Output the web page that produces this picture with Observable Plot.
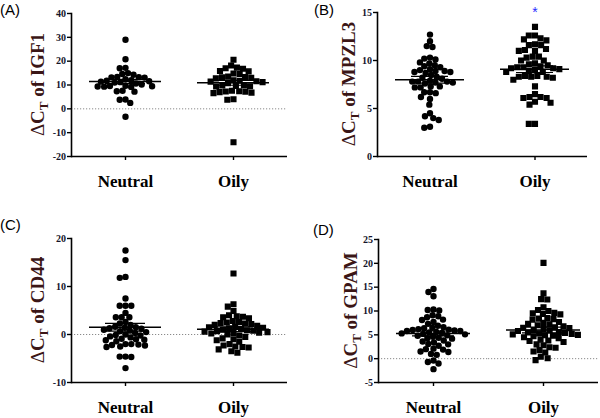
<!DOCTYPE html>
<html><head><meta charset="utf-8">
<script src="https://cdn.jsdelivr.net/npm/d3@7"></script>
<script src="https://cdn.jsdelivr.net/npm/@observablehq/plot@0.6"></script>
<style>
body{margin:0;background:#fff;}
#wrap{position:relative;width:600px;height:418px;overflow:hidden;background:#fff;}
.panel{position:absolute;}
.tag{position:absolute;font-family:"Liberation Sans",Arial,sans-serif;font-size:15px;line-height:1;color:#000;}
</style></head><body><div id="wrap"></div>
<script>
const groups = ["Neutral", "Oily"];
const panelTags = ["(A)", "(B)", "(C)", "(D)"];
const genes = ["IGF1", "MPZL3", "CD44", "GPAM"];

const igf1Neutral = [29.0, 20.8, 17.2, 17.0, 15.0, 14.6, 14.3, 13.4, 13.3, 13.2, 13.1, 12.4, 12.0, 11.8, 11.6, 11.4, 11.2, 11.0, 10.6, 10.2, 9.7, 9.6, 9.5, 9.4, 9.3, 9.2, 7.6, 7.4, 7.2, 3.9, 3.8, 2.5, -3.3];
const igf1Oily = [20.6, 18.2, 17.3, 17.0, 16.8, 15.9, 15.7, 14.8, 14.6, 13.5, 13.3, 13.2, 13.0, 12.8, 12.0, 11.8, 11.6, 11.4, 11.2, 10.8, 9.9, 9.8, 9.6, 9.5, 9.4, 7.6, 7.4, 7.3, 7.2, 7.0, 6.8, 6.6, 4.0, 3.8, -14.0];

const mpzl3Neutral = [12.7, 12.0, 11.5, 11.4, 10.3, 10.2, 10.1, 9.8, 9.7, 9.5, 9.4, 9.3, 9.1, 9.0, 8.9, 8.9, 8.8, 8.8, 8.7, 8.5, 8.3, 8.2, 8.1, 7.9, 7.8, 7.8, 7.8, 7.7, 7.7, 7.6, 7.3, 7.3, 7.2, 7.2, 6.7, 6.7, 6.6, 6.2, 6.0, 5.4, 4.5, 4.2, 4.0, 3.8, 3.1, 3.0];
const mpzl3Oily = [13.5, 12.6, 12.6, 12.3, 12.2, 12.1, 11.7, 11.6, 11.6, 11.2, 11.1, 11.0, 11.0, 10.4, 10.4, 10.3, 10.0, 10.0, 9.7, 9.6, 9.5, 9.4, 9.3, 9.3, 9.2, 9.2, 9.1, 9.0, 8.9, 8.8, 8.8, 8.4, 8.4, 8.3, 8.3, 8.3, 8.2, 8.0, 7.3, 6.5, 6.2, 6.2, 6.1, 6.1, 5.7, 5.6, 5.4, 3.4, 3.4];

const cd44Neutral = [17.5, 15.5, 12.0, 11.8, 7.5, 6.0, 6.0, 6.0, 4.5, 3.6, 3.6, 3.6, 2.6, 2.3, 2.0, 1.6, 1.5, 1.4, 1.3, 1.2, 1.0, 0.8, 0.7, 0.5, 0.3, 0.0, -0.1, -0.2, -0.4, -0.6, -0.9, -1.0, -1.1, -1.2, -1.4, -2.0, -2.0, -2.1, -2.2, -2.3, -2.5, -2.6, -4.6, -4.6, -4.7, -7.0];
const cd44Oily = [12.7, 6.3, 5.8, 4.9, 4.0, 3.8, 3.7, 3.6, 3.4, 2.8, 2.6, 2.5, 2.4, 2.3, 2.2, 2.0, 1.8, 1.6, 1.5, 1.4, 1.3, 1.2, 1.0, 0.9, 0.8, 0.7, 0.6, 0.5, 0.4, 0.3, 0.2, 0.0, -0.2, -0.5, -0.8, -1.0, -1.2, -1.5, -2.0, -2.3, -2.5, -2.6, -2.7, -3.1, -3.5, -3.8];

const gpamNeutral = [14.6, 14.0, 13.1, 10.3, 10.2, 10.1, 9.1, 8.9, 8.7, 8.2, 8.1, 7.7, 7.3, 6.9, 6.6, 6.5, 6.4, 6.2, 6.1, 6.0, 5.9, 5.8, 5.8, 5.6, 5.5, 5.4, 5.3, 5.2, 5.1, 4.9, 4.8, 4.6, 4.4, 4.3, 4.2, 3.8, 3.6, 3.4, 3.1, 3.0, 2.7, 2.1, 2.0, 1.9, 1.5, 1.4, 1.0, 0.8, -0.4, -0.7, -1.0, -2.2];
const gpamOily = [20.1, 13.7, 12.5, 12.4, 10.8, 10.2, 10.0, 9.6, 9.5, 9.4, 9.3, 8.5, 8.4, 8.3, 8.2, 7.7, 7.5, 7.3, 7.2, 7.0, 6.8, 6.6, 6.5, 6.4, 6.2, 6.0, 5.9, 5.8, 5.6, 5.5, 5.4, 5.3, 5.2, 5.1, 5.0, 4.9, 4.8, 4.7, 4.5, 4.3, 4.0, 3.8, 3.7, 3.5, 3.0, 2.8, 2.4, 2.3, 1.8, 1.5, 1.3, 0.4, 0.1, -0.3];

// mean and SEM per group [Neutral, Oily]
const igf1Mean = [11.5, 10.9], igf1Sem = [0.9, 1.0];
const mpzl3Mean = [8.0, 9.1], mpzl3Sem = [0.35, 0.35];
const cd44Mean = [1.5, 1.1], cd44Sem = [0.8, 0.5];
const gpamMean = [5.3, 6.0], gpamSem = [0.5, 0.6];

// y-axis tick values
const igf1Ticks = [-20, -10, 0, 10, 20, 30, 40];
const mpzl3Ticks = [0, 5, 10, 15];
const cd44Ticks = [-10, 0, 10, 20];
const gpamTicks = [-5, 0, 5, 10, 15, 20, 25];

// significance marks [Neutral, Oily]
const mpzl3Sig = ["", "*"];

const wrap = document.getElementById("wrap");

function panel(cfg) {
  const nRows = cfg.neutral.map(v => ({g: groups[0], v}));
  const oRows = cfg.oily.map(v => ({g: groups[1], v}));
  const stats = groups.map((g, i) => ({g, m: cfg.mean[i], lo: cfg.mean[i] - cfg.sem[i], hi: cfg.mean[i] + cfg.sem[i], s: (cfg.sig || ["", ""])[i]}));
  const ymin = cfg.ticks[0], ymax = cfg.ticks[cfg.ticks.length - 1];
  const svg = Plot.plot({
    width: 300, height: 209,
    marginLeft: cfg.ml, marginRight: cfg.mr, marginTop: cfg.mt, marginBottom: cfg.mb,
    style: {fontFamily: "'Liberation Serif', 'Times New Roman', serif", background: "transparent", overflow: "visible", color: "#000"},
    y: {domain: [ymin, ymax], label: null},
    fx: {domain: groups, padding: 0, label: null},
    marks: [
      Plot.ruleY([0], {stroke: "#8a8a8a", strokeWidth: 1, strokeDasharray: "1.2,1.8"}),
      Plot.dot(nRows, Plot.dodgeX("middle", {fx: "g", y: "v", r: 2.4, padding: 1.1, fill: "#000", stroke: "#000", strokeWidth: 1.6})),
      Plot.dot(oRows, Plot.dodgeX("middle", {fx: "g", y: "v", r: 2.6, padding: 0.9, symbol: "square", fill: "#000", stroke: "#000", strokeWidth: 1.5})),
      Plot.tickY(stats, {fx: "g", y: "m", insetLeft: 18, insetRight: 18, stroke: "#000", strokeWidth: 1.5}),
      Plot.tickY(stats, {fx: "g", y: "hi", insetLeft: 34, insetRight: 34, stroke: "#000", strokeWidth: 1.2}),
      Plot.tickY(stats, {fx: "g", y: "lo", insetLeft: 34, insetRight: 34, stroke: "#000", strokeWidth: 1.2}),
      Plot.text(stats, {fx: "g", text: "s", frameAnchor: "top", dy: -5, fontSize: 14, fill: "#2b2bff", fontFamily: "'Liberation Sans', Arial, sans-serif"}),
      Plot.ruleY([ymin], {stroke: "#000", strokeWidth: 1.6}),
      Plot.frame({anchor: "left", facet: "super", stroke: "#000", strokeWidth: 1.6}),
      Plot.axisY({ticks: cfg.ticks, tickFormat: d => String(d), tickSize: 4, tickPadding: 1.5, fontSize: 10, fontWeight: "bold", strokeWidth: 1.4, label: null, fill: "#14142a"}),
      Plot.axisFx({anchor: "bottom", tickSize: 4, tickPadding: 14, fontSize: 17, fontWeight: "bold", strokeWidth: 1.4, label: null})
    ]
  });
  svg.classList.add("panel");
  svg.style.left = cfg.left + "px";
  svg.style.top = cfg.top + "px";
  // y-axis title with subscript
  const cy = cfg.mt + (209 - cfg.mt - cfg.mb) / 2;
  const t = d3.select(svg).append("text")
    .attr("x", 0).attr("y", 0)
    .attr("transform", `translate(${cfg.tx},${cy}) rotate(-90)`)
    .attr("text-anchor", "middle")
    .attr("font-family", "'Liberation Serif', 'Times New Roman', serif")
    .attr("font-weight", "bold")
    .attr("font-size", 19)
    .attr("fill", "#3b1616");
  t.append("tspan").attr("font-weight", "normal").text("\u0394");
  t.append("tspan").text("C");
  t.append("tspan").attr("font-size", 13).attr("dy", 4).text("T");
  t.append("tspan").attr("dy", -4).text(" of " + cfg.gene);
  wrap.appendChild(svg);
  const tag = document.createElement("div");
  tag.className = "tag";
  tag.textContent = cfg.tag;
  tag.style.left = cfg.tagX + "px";
  tag.style.top = cfg.tagY + "px";
  wrap.appendChild(tag);
}

panel({tag: panelTags[0], gene: genes[0], neutral: igf1Neutral, oily: igf1Oily, mean: igf1Mean, sem: igf1Sem, ticks: igf1Ticks,
  left: 0, top: 0, ml: 71, mr: 13, mt: 13, mb: 53, tx: 44, tagX: 0, tagY: 2});
panel({tag: panelTags[1], gene: genes[1], neutral: mpzl3Neutral, oily: mpzl3Oily, mean: mpzl3Mean, sem: mpzl3Sem, ticks: mpzl3Ticks, sig: mpzl3Sig,
  left: 300, top: 0, ml: 77, mr: 13, mt: 12, mb: 53, tx: 55, tagX: 314, tagY: 2});
panel({tag: panelTags[2], gene: genes[2], neutral: cd44Neutral, oily: cd44Oily, mean: cd44Mean, sem: cd44Sem, ticks: cd44Ticks,
  left: 0, top: 209, ml: 71, mr: 13, mt: 29, mb: 36, tx: 44, tagX: 0, tagY: 217});
panel({tag: panelTags[3], gene: genes[3], neutral: gpamNeutral, oily: gpamOily, mean: gpamMean, sem: gpamSem, ticks: gpamTicks,
  left: 300, top: 209, ml: 77, mr: 2, mt: 30, mb: 36, tx: 57, tagX: 313, tagY: 222});
</script></body></html>
